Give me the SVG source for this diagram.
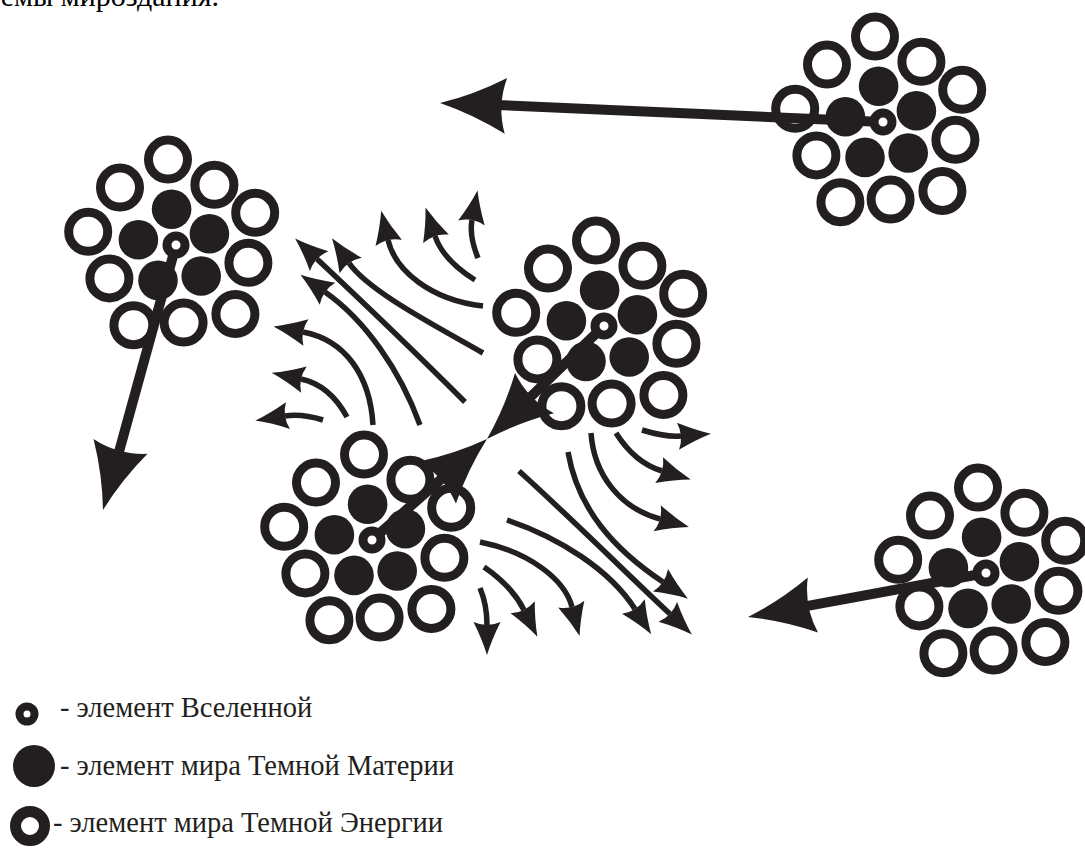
<svg xmlns="http://www.w3.org/2000/svg" width="1085" height="851" viewBox="0 0 1085 851">
<style>
.ring{fill:none;stroke:#231f20;stroke-width:9}
.dot{fill:#231f20}
.uni{fill:none;stroke:#231f20;stroke-width:9}
.shaft{fill:none;stroke:#231f20;stroke-width:10}
.flow{fill:none;stroke:#231f20;stroke-width:5.5;marker-end:url(#sa)}
.txt{font-family:"Liberation Serif","Times New Roman",serif;font-size:28.5px;fill:#231f20}
</style>
<defs>
<marker id="sa" markerUnits="userSpaceOnUse" markerWidth="40" markerHeight="30" viewBox="-5 -15 40 30" refX="0" refY="0" orient="auto" overflow="visible">
<path d="M30,0 Q14,-5 -3,-13.5 Q3,0 -3,13.5 Q14,5 30,0Z" fill="#231f20"/>
</marker>
<path id="bh" d="M0,0 Q-34,-10 -66,-28 Q-57,0 -66,28 Q-34,10 0,0Z" fill="#231f20"/>
<g id="cl">
<circle class="ring" cx="-8" cy="-85.4" r="19.5"/>
<circle class="ring" cx="-56" cy="-57.4" r="19.5"/>
<circle class="ring" cx="38.4" cy="-60.2" r="19.5"/>
<circle class="ring" cx="79.2" cy="-32.2" r="19.5"/>
<circle class="ring" cx="-87.8" cy="-13.2" r="19.5"/>
<circle class="ring" cx="72.4" cy="17.8" r="19.5"/>
<circle class="ring" cx="-66.6" cy="33.4" r="19.5"/>
<circle class="ring" cx="-42.6" cy="80.2" r="19.5"/>
<circle class="ring" cx="7.6" cy="77.6" r="19.5"/>
<circle class="ring" cx="59.4" cy="69" r="19.5"/>
<circle class="dot" cx="-4.4" cy="-35.8" r="19.8"/>
<circle class="dot" cx="-37.6" cy="-5.2" r="19.8"/>
<circle class="dot" cx="33.4" cy="-11.2" r="19.8"/>
<circle class="dot" cx="-18" cy="35.4" r="19.8"/>
<circle class="dot" cx="25.2" cy="31" r="19.8"/>
<circle class="uni" cx="0" cy="0" r="9"/>
</g>
</defs>
<rect width="1085" height="851" fill="#ffffff"/>
<text x="219" y="6" text-anchor="end" font-family="'Liberation Serif','Times New Roman',serif" font-size="30" fill="#000000">емы мироздания.</text>

<g id="cluster-top-right"><use href="#cl" x="883" y="122"/></g>
<g id="cluster-top-left"><use href="#cl" x="176" y="245"/></g>
<g id="cluster-middle"><use href="#cl" x="604" y="326"/></g>
<g id="cluster-bottom-left"><use href="#cl" x="372" y="540"/></g>
<g id="cluster-bottom-right"><use href="#cl" x="986" y="573"/></g>

<g id="connectors">
<path class="shaft" d="M877,121.7 L496,105"/>
<use href="#bh" transform="translate(440,103) rotate(182.5)"/>
<path class="shaft" d="M173.9,252.7 L117.3,458"/>
<use href="#bh" transform="translate(103,510) rotate(105.4)"/>
<path class="shaft" d="M598,331.6 L525.8,401.5"/>
<use href="#bh" transform="translate(487,439) rotate(136)"/>
<path class="shaft" d="M378,534.7 L446.4,474.6"/>
<use href="#bh" transform="translate(487,439) rotate(-41.3)"/>
<path class="shaft" d="M978,574.5 L801,607.2"/>
<use href="#bh" transform="translate(748,617) rotate(169.5)"/>

<path class="flow" d="M478,258 Q469,236 472,220"/>
<path class="flow" d="M475,280 Q443,260 435,236"/>
<path class="flow" d="M483,306 C430,300 395,270 388,240"/>
<path class="flow" d="M483,353 C440,328 369,292 349,263"/>
<path class="flow" d="M465,402 C420,357 350,290 317,259"/>
<path class="flow" d="M420,425 C400,370 365,320 325,292"/>
<path class="flow" d="M373,425 C370,375 345,340 303,332"/>
<path class="flow" d="M347,417 C335,395 320,383 301,379"/>
<path class="flow" d="M323,420 C310,416 298,414 285,416"/>

<path class="flow" d="M642,430 C655,434 668,437 681,436"/>
<path class="flow" d="M616,433 C628,452 642,465 662,471"/>
<path class="flow" d="M591,433 C594,475 620,508 660,519"/>
<path class="flow" d="M568,452 C578,510 615,550 663,582"/>
<path class="flow" d="M519,471 C570,517 620,567 670,614"/>
<path class="flow" d="M507,520 C560,538 610,570 635,609"/>
<path class="flow" d="M480,542 C530,552 565,580 572,607"/>
<path class="flow" d="M484,567 C500,578 515,592 524,610"/>
<path class="flow" d="M480,588 C485,600 487,612 487,625"/>
</g>

<g id="legend-universe">
<circle cx="27" cy="714" r="7.5" fill="none" stroke="#231f20" stroke-width="8"/>
<text class="txt" x="60" y="717">- элемент Вселенной</text>
</g>
<g id="legend-dark-matter">
<circle cx="34" cy="766" r="21" fill="#231f20"/>
<text class="txt" x="60" y="775">- элемент мира Темной Материи</text>
</g>
<g id="legend-dark-energy">
<circle cx="30" cy="826" r="14.5" fill="none" stroke="#231f20" stroke-width="11"/>
<text class="txt" x="53" y="832">- элемент мира Темной Энергии</text>
</g>
</svg>
